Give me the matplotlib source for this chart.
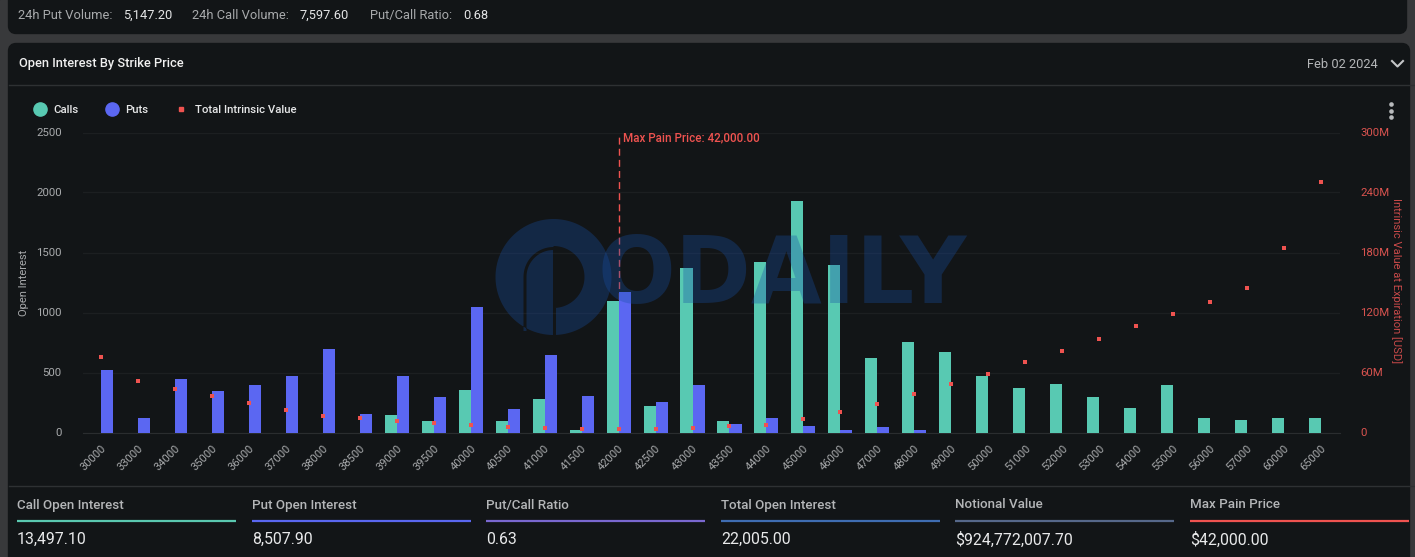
import numpy as np
import matplotlib
matplotlib.use("Agg")
import matplotlib.pyplot as plt
from matplotlib.lines import Line2D
from matplotlib.patches import PathPatch, Rectangle, FancyBboxPatch, Circle
from matplotlib.path import Path

plt.rcParams['font.family'] = ['Roboto', 'DejaVu Sans']

# --- data ---
strikes = ["30000", "33000", "34000", "35000", "36000", "37000", "38000", "38500", "39000", "39500",
           "40000", "40500", "41000", "41500", "42000", "42500", "43000", "43500", "44000", "45000",
           "46000", "47000", "48000", "49000", "50000", "51000", "52000", "53000", "54000", "55000",
           "56000", "57000", "60000", "65000"]
calls = [0, 0, 0, 0, 0, 0, 0, 0, 150, 100,
         358, 92, 283, 25, 1100, 217, 1367, 100, 1425, 1925,
         1392, 625, 758, 675, 475, 375, 408, 292, 208, 400,
         125, 108, 125, 117]
puts = [525, 117, 450, 342, 400, 475, 700, 158, 475, 292,
        1042, 192, 650, 308, 1175, 258, 400, 67, 125, 58,
        17, 42, 17, 0, 0, 0, 0, 0, 0, 0,
        0, 0, 0, 0]
intrinsic_m = [76, 52, 44, 37, 30, 23, 17, 15, 12, 10,
               8, 6, 5, 4, 4, 4, 5, 7, 8, 14,
               21, 29, 39, 49, 59, 71, 82, 94, 107, 119,
               131, 145, 185, 251]
oi_ticks = [0, 500, 1000, 1500, 2000, 2500]
iv_ticks = [0, 60, 120, 180, 240, 300]
iv_labels = ["0", "60M", "120M", "180M", "240M", "300M"]
max_pain_strike = "42000"

top_stats = [("24h Put Volume:", 18, "5,147.20", 123), ("24h Call Volume:", 192, "7,597.60", 300),
             ("Put/Call Ratio:", 370, "0.68", 463)]
bottom_labels = ["Call Open Interest", "Put Open Interest", "Put/Call Ratio",
                 "Total Open Interest", "Notional Value", "Max Pain Price"]
bottom_values = ["13,497.10", "8,507.90", "0.63", "22,005.00", "$924,772,007.70", "$42,000.00"]
bottom_colors = ["#5ac8b0", "#5a67f0", "#7a68d0", "#3f6db2", "#56688a", "#ef5350"]
bottom_x = [17, 252, 486, 721, 955, 1190]

# --- colours ---
CARD = "#121517"
GAP = "#38393b"
CALL = "#58c9b2"
PUT = "#5b67f2"
RED = "#ef5350"
GRID = "#1c1f21"
TICK = "#a8aaac"

W, H = 1415, 557
fig = plt.figure(figsize=(W / 100, H / 100), dpi=100, facecolor=CARD)

# background cards in pixel coordinates
bg = fig.add_axes([0, 0, 1, 1], zorder=0)
bg.set_xlim(0, W)
bg.set_ylim(H, 0)
bg.axis("off")
bg.add_patch(Rectangle((0, 0), W, H, color=GAP))
bg.add_patch(FancyBboxPatch((12, -20), W - 24, 50, boxstyle="round,pad=0,rounding_size=4", fc=CARD, ec=CARD, lw=6))
bg.add_patch(FancyBboxPatch((12, 47), W - 21, 530, boxstyle="round,pad=0,rounding_size=4", fc=CARD, ec=CARD, lw=6))
bg.plot([9, W], [85, 85], color="#2e3133", lw=1)
bg.plot([9, W], [486, 486], color="#2e3133", lw=1)

# main chart
ax = fig.add_axes([82.5 / W, 1 - 432.5 / H, 1257 / W, 300 / H], zorder=1)
ax.patch.set_alpha(0)
x = np.arange(len(strikes))
bar_w = 0.325
ax.bar(x - bar_w / 2, calls, bar_w, color=CALL, zorder=3)
ax.bar(x + bar_w / 2, puts, bar_w, color=PUT, zorder=3)
ax.set_xlim(-0.5, len(strikes) - 0.5)
ax.set_ylim(0, 2500)
ax.set_yticks(oi_ticks)
ax.set_xticks(x)
ax.set_xticklabels(strikes, rotation=45, ha="right", rotation_mode="anchor", fontsize=8, color=TICK)
ax.tick_params(axis="x", length=0, pad=8)
ax.tick_params(axis="y", length=0, pad=15, labelsize=8.2, labelcolor=TICK)
ax.grid(axis="y", color=GRID, lw=1, zorder=0)
for s in ["top", "left", "right"]:
    ax.spines[s].set_visible(False)
ax.spines["bottom"].set_color("#2a2d2f")
ax.set_ylabel("Open Interest", fontsize=8, color=TICK)
ax.yaxis.set_label_coords((29 - 82.5) / 1257, 0.5)

mp = strikes.index(max_pain_strike)
ax.axvline(mp, color=RED, lw=1, dashes=(5, 3), zorder=2)
ax.text(mp + 0.13, 2455, "Max Pain Price: 42,000.00", color=RED, fontsize=8.4,
        fontweight="medium", va="center", ha="left")

ax2 = ax.twinx()
ax2.patch.set_alpha(0)
ax2.scatter(x, intrinsic_m, marker="s", s=9, color=RED, linewidths=0, zorder=5)
ax2.set_ylim(0, 300)
ax2.set_yticks(iv_ticks)
ax2.set_yticklabels(iv_labels)
ax2.tick_params(axis="y", length=0, pad=15, labelsize=8.2, labelcolor="#d9534f")
for s in ax2.spines.values():
    s.set_visible(False)
ax2.set_ylabel("Intrinsic Value at Expiration [USD]", fontsize=8, color="#c94a4a", rotation=270, va="center")
ax2.yaxis.set_label_coords((1396 - 82.5) / 1257, 0.505)

# legend
handles = [Line2D([], [], ls="", marker="o", ms=9.5, color=CALL),
           Line2D([], [], ls="", marker="o", ms=9.5, color=PUT),
           Line2D([], [], ls="", marker="s", ms=3, color=RED)]
leg = fig.legend(handles, ["Calls", "Puts", "Total Intrinsic Value"], ncols=3, frameon=False,
                 loc="center left", bbox_to_anchor=(18 / W, 1 - 110 / H), fontsize=8.2,
                 labelcolor="#e6e7e8", handletextpad=0.2, columnspacing=1.9, handlelength=2,
                 prop={"size": 8.2, "weight": "medium"})

# overlay: watermark and page text
top = fig.add_axes([0, 0, 1, 1], zorder=3)
top.set_xlim(0, W)
top.set_ylim(H, 0)
top.axis("off")
top.patch.set_alpha(0)

WM = "#184fa5"
WM_A = 0.33
cx, cy = 553.5, 277
t = np.linspace(0, 2 * np.pi, 120)
outer = np.c_[cx + 58 * np.cos(t), cy + 58 * np.sin(t)]
a1 = np.linspace(-np.pi / 2, np.pi / 2, 50)
a2 = np.linspace(-np.pi / 2, -np.pi, 30)
hole = np.vstack([
    np.c_[cx + 31 * np.cos(a1), cy + 31 * np.sin(a1)],
    [[cx + 2.5, cy + 31], [cx + 2.5, cy + 58], [cx - 0.5, cy + 58], [cx - 0.5, cy - 27]],
    np.c_[cx + 27 * np.cos(a2), cy + 27 * np.sin(a2)],
    [[cx - 27, cy + 54], [cx - 30, cy + 54]],
    np.c_[cx + 30 * np.cos(a2[::-1]), cy + 30 * np.sin(a2[::-1])],
])
if np.cross(hole[1] - hole[0], hole[2] - hole[1]) > 0:
    hole = hole[::-1]
verts = np.vstack([outer, outer[0], hole, hole[0]])
codes = ([Path.MOVETO] + [Path.LINETO] * len(outer) +
         [Path.MOVETO] + [Path.LINETO] * len(hole))
top.add_patch(PathPatch(Path(verts, codes), fc=WM, ec="none", alpha=WM_A))
top.text(782, 277, "ODAILY", family=["Liberation Sans Narrow", "DejaVu Sans"], fontweight="bold",
         fontsize=66, color=WM, alpha=WM_A, ha="center", va="center")

for lab, lx, val, vx in top_stats:
    top.text(lx, 15.5, lab, color="#a8aaac", fontsize=9.3, va="center")
    top.text(vx, 15.5, val, color="#e4e5e6", fontsize=9.3, va="center")

top.text(19, 63, "Open Interest By Strike Price", color="#f0f0f0", fontsize=9.3, fontweight="medium", va="center")
top.text(1307, 64, "Feb 02 2024", color="#b4b6b8", fontsize=9.3, va="center")
top.plot([1392, 1397.5, 1403], [61, 66.5, 61], color="#c4c6c8", lw=1.5)
top.scatter([1391, 1391, 1391], [104, 111, 117], s=11, color="#b8babc", linewidths=0)

for lab, val, col, lx in zip(bottom_labels, bottom_values, bottom_colors, bottom_x):
    top.text(lx, 505, lab, color="#b4b6b8", fontsize=9.6, fontweight="medium", va="center")
    top.plot([lx, lx + 219], [521, 521], color=col, lw=1.6, solid_capstyle="butt")
    top.text(lx, 539.5, val, color="#e8e9ea", fontsize=11.4, va="center")

fig.savefig("out.png", dpi=100, facecolor=fig.get_facecolor())
